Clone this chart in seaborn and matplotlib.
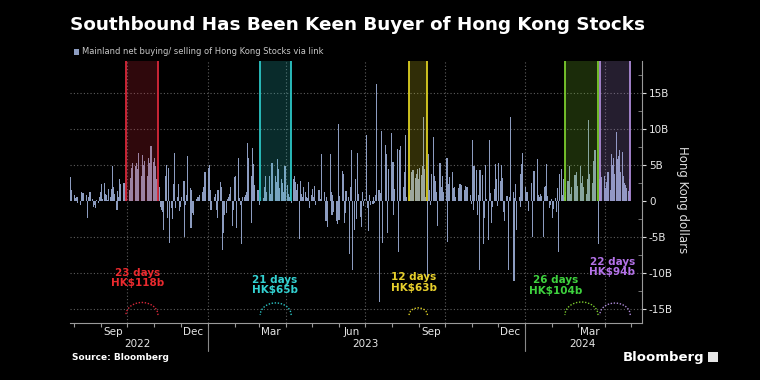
import pandas as pd
import seaborn as sns
import matplotlib.pyplot as plt
import matplotlib.dates as mdates
from matplotlib.patches import Arc, Rectangle
from matplotlib.transforms import blended_transform_factory

# daily net buying via Stock Connect (HK$ bn)
start_a = "2022-07-28"
flows_a = [3.3, 1.5, 0.9, 0.4, 0.2, 0.5, -0.3, -0.5, 1.2, 0.6,
           1.1, 0.3, 0.8, -2.4, 0.6, 0.9, 1.3, 0.3, -0.8, -0.6,
           -1.0, 0.2, -0.3, 0.6, 1.2, 2.3, 0.3, 2.5, 1.0, 0.8,
           0.1, 1.7, 0.5, 1.6, 4.9, 2.0, 1.0, -1.3, 1.4, 0.6,
           3.1, 2.3, 1.8, 2.5, 0.8, 0.3]
start_b = "2022-09-30"
flows_b = [0.4, 1.5, 1.0, 3.2, 4.6, 5.2, 4.8, 5.2, 3.8, 4.4,
           6.6, 3.5, 6.4, 5.0, 4.0, 5.6, 3.5, 6.0, 5.2, 7.5,
           7.6, 5.4, 6.0, 4.8, 2.0, 3.0]
start_c = "2022-11-07"
flows_c = [2.0, -0.8, -1.3, -1.5, -4.0,
           3.5, 5.0, -2.3, 4.6, -5.8, -1.0, -2.5, 2.3, 6.6, -1.0,
           0.5, 2.3, -1.4, -0.8, 0.6, 2.8, -5.0, -0.5, 0.8, 6.2,
           1.8, -3.8, 1.5, -1.6, -2.0, 0.3, 0.4, 0.5, 0.2, 0.8, 1.2, 2.0,
           3.5, 4.0, 3.0, 4.6, 5.0, 1.5, -1.3, -1.0, 0.5, 1.0,
           -1.2, -2.3, 1.5, 2.6, 2.0, -6.8, -4.5, -2.0, -1.6, 0.3,
           0.6, 1.0, 2.0, -3.5, -1.2, 3.3, 3.4, -3.7, 6.0, 0.4,
           -0.6, -5.9, 0.5, 0.6, 0.8, 1.2, 8.0, 6.0, -3.0, 3.4, 7.3,
           5.1, 2.2, 0.9, 1.5, 0.7, -0.5]
start_d = "2023-03-03"
flows_d = [0.5, 0.4, 2.0, 0.8, 3.5, 1.2, 3.4, 1.0, 2.0, 5.2,
           1.8, 3.5, 2.6, 5.8, 4.5, 1.8, 3.0, 2.5, 1.2, 0.8,
           4.8, 2.2, 1.0, 0.5, 1.6]
start_e = "2023-04-07"
flows_e = [-0.3, 3.1, 3.4, 2.6, 1.5, 2.3, -5.2, 2.8, 1.0, 0.6,
           2.0, 1.3, 0.5, 0.4, 2.7, -1.0, 0.8, 1.6, 0.5, 2.1,
           -0.6, 1.4, 1.5, 0.7, 0.3, 6.5, 1.3, -2.0, -2.7, 0.5,
           -3.6, 6.5, 1.2, -2.0, 0.8, -1.5, -2.7, -3.2, 10.7, -2.6,
           0.7, 4.1, 3.8, -3.0, -1.6, 1.4, 0.5, -7.3, 2.0, 7.1,
           -9.6, -4.0, 3.1, -2.5, 6.7, 1.0, -2.2,
           -3.6, 1.2, -0.7, 0.3, 9.2, -1.0, -4.2, 0.8, -0.5, -0.4,
           0.6, -0.3, 0.9, 16.2, 1.5, -14.0, 1.1, 9.7, -5.8, 7.8,
           1.0, 6.5, -4.4, 4.4, 9.4, 2.2, 5.4, -2.0, 1.6, 7.2,
           -7.0, 6.0, 7.1, 7.6, 2.0, 4.0, 9.1, 0.6, 0.2]
start_f = "2023-08-21"
flows_f = [0.8, 1.5, 4.0, 3.5, 4.3, 3.2, 3.8, 4.4, 3.0, 4.6,
           3.6, 4.8, 11.6, 4.5, 0.5]
start_g = "2023-09-11"
flows_g = [-11.0, 6.5, 1.5, -0.6, 3.7, 8.9, 3.5, 2.8, 1.3, -3.5,
           5.3, 1.0, 2.0, 3.5, 1.2, 4.3, 6.0, -5.7, 2.3, 3.3,
           4.0, 1.5, 1.8, 2.0, 0.5,
           1.8, 1.6, 2.3, 1.9, 2.2, 1.5, 2.1, 1.8, 2.0, 0.9,
           0.8, -0.4, 8.5, -1.3, 4.9, 4.3, -1.9, 0.8, -9.5, 4.3,
           3.6, -6.0, -2.3, 5.0, 0.3, -5.4, 8.4, 1.1, -3.0, -0.8,
           1.6, 5.1, 3.0, -0.7, 5.2, 2.8, 5.0, 3.2, -1.5, -2.8,
           0.7, 0.6, -9.6, 0.5, 11.7, 1.2, -11.1, 0.4, 2.3, -4.0,
           0.6, -0.8, 3.8, 5.1, 6.7, 2.0, 0.8, 1.2, 0.2, -1.4,
           2.5, -5.0, 1.0, 4.1, 2.3, 5.8, 0.9, 0.5, 1.0, 0.7,
           -5.0, 2.0, 2.1, 5.1, 0.7, -1.0, -0.5, 0.3, -2.3, -1.1,
           0.4, -1.5, 1.8, -7.0, 3.8, 4.5, 0.8, 3.0, 0.5]
start_h = "2024-02-16"
flows_h = [1.2, 2.8, 0.7, 4.8, 1.0, 2.0, 1.2, 3.6, 1.4, 4.0,
           2.1, 4.9, 2.5, 1.8, 3.5, 2.0, 1.0, 3.0, 1.5, 11.2,
           3.7, 2.5, 5.6, 3.0, 7.0, 4.2]
start_i = "2024-03-25"
flows_i = [-6.0, 3.0]
start_j = "2024-03-27"
flows_j = [4.0, 3.3, 2.5, 3.5, 1.8, 2.6, 3.0, 4.0, 1.5, 6.5,
           5.0, 6.0, 3.8, 9.6, 5.8, 6.2, 7.0, 4.0, 6.8, 3.5,
           2.5, 2.2, 1.8, 1.4, 3.0]

# buying streaks
band_starts = ["2022-09-29 06:00", "2023-03-02 12:00", "2023-08-20 12:00", "2024-02-15 12:00", "2024-03-26 12:00"]
band_ends = ["2022-11-05", "2023-04-07", "2023-09-10 12:00", "2024-03-24 12:00", "2024-04-30 12:00"]
band_colors = ["#d8283a", "#2cc6c6", "#dccf22", "#7ccc2e", "#ad8ad8"]
text_colors = ["#ea2a2e", "#33d2d2", "#e8d02c", "#3ed23e", "#b472e8"]
streak_days = ["23 days", "21 days", "12 days", "26 days", "22 days"]
streak_amounts = ["HK\\$118b", "HK\\$65b", "HK\\$63b", "HK\\$104b", "HK\\$94b"]
label_dates = ["2022-10-13", "2023-03-19", "2023-08-26", "2024-02-05", "2024-04-10"]
label_values = [-10.7, -11.6, -11.3, -11.7, -9.1]

month_label_dates = ["2022-09-15", "2022-12-15", "2023-03-15", "2023-06-15", "2023-09-15", "2023-12-15", "2024-03-15"]
month_labels = ["Sep", "Dec", "Mar", "Jun", "Sep", "Dec", "Mar"]
year_label_dates = ["2022-10-13", "2023-07-01", "2024-03-07"]
year_labels = ["2022", "2023", "2024"]

segments = [(start_a, flows_a), (start_b, flows_b), (start_c, flows_c), (start_d, flows_d),
            (start_e, flows_e), (start_f, flows_f), (start_g, flows_g), (start_h, flows_h),
            (start_i, flows_i), (start_j, flows_j)]
frames = [pd.DataFrame({"date": pd.bdate_range(s, periods=len(v)), "flow": v}) for s, v in segments]
df = pd.concat(frames, ignore_index=True)
df["x"] = mdates.date2num(df["date"])

def dnum(s):
    return mdates.date2num(pd.Timestamp(s))

sns.set_theme(style="dark")
plt.rcParams["font.family"] = ["DejaVu Sans"]

fig = plt.figure(figsize=(7.6, 3.8), dpi=100, facecolor="black")
ax = fig.add_axes([0.0921, 0.15, 0.7526, 0.6895], facecolor="black")

ymin, ymax = -16.9, 19.4
grid_col = "#5e5e5e"

# gridlines
for v in [-15, -10, -5, 5, 10, 15]:
    ax.axhline(v, color=grid_col, lw=0.8, linestyle=(0, (1, 2)), zorder=0)
for q in pd.date_range("2022-10-01", "2024-04-01", freq="QS"):
    ax.axvline(mdates.date2num(q), color=grid_col, lw=0.8, linestyle=(0, (1, 2)), zorder=0)

sns.barplot(data=df, x="x", y="flow", native_scale=True, color="#8c9cc0", width=1.3,
            errorbar=None, saturation=1, linewidth=0, ax=ax, zorder=2)

for s, e, c, tc, nd, amt, ld, lv in zip(band_starts, band_ends, band_colors, text_colors,
                                        streak_days, streak_amounts, label_dates, label_values):
    s, e = dnum(s), dnum(e)
    ax.add_patch(Rectangle((s, 0), e - s, ymax, facecolor=c, alpha=0.22, edgecolor="none", zorder=3))
    ax.vlines([s, e], 0, ymax, colors=c, lw=1.3, zorder=4)
    h = 0.095 * (e - s) / 2
    ax.add_patch(Arc(((s + e) / 2, -15.8), e - s, 2 * h, theta1=0, theta2=180, color=c,
                     lw=1.0, linestyle=(0, (1, 1.2)), zorder=4))
    ax.text(dnum(ld), lv, f"{nd}\n{amt}", color=tc, ha="center", va="center", fontsize=7.5,
            fontweight="bold", linespacing=1.05, zorder=5)

ax.set_xlim(dnum("2022-07-27"), dnum("2024-05-14"))
ax.set_ylim(ymin, ymax)
ax.set_xlabel("")
ax.set_ylabel("")

# y axis on the right
ax.yaxis.tick_right()
ax.set_yticks([-15, -10, -5, 0, 5, 10, 15])
ax.set_yticklabels(["-15B", "-10B", "-5B", "0", "5B", "10B", "15B"])
ax.set_yticks([-12.5, -7.5, -2.5, 2.5, 7.5, 12.5, 17.5], minor=True)
ax.tick_params(axis="y", which="major", direction="out", length=3, width=0.8, color="#dddddd",
               labelcolor="#e6e6e6", labelsize=7.5, pad=2, right=True, left=False)
ax.tick_params(axis="y", which="minor", direction="in", length=3, width=0.6, color="#888888",
               right=True, left=False)

# months
month_starts = pd.date_range("2022-08-01", "2024-05-01", freq="MS")
ax.set_xticks(mdates.date2num(month_starts))
ax.set_xticklabels([])
ax.set_xticks([dnum(d) for d in month_label_dates], minor=True)
ax.set_xticklabels(month_labels, minor=True)
ax.tick_params(axis="x", which="major", direction="out", length=3, width=0.8, color="#999999", bottom=True)
ax.tick_params(axis="x", which="minor", length=0, labelcolor="#e6e6e6", labelsize=7.5, pad=3)

trans = blended_transform_factory(ax.transData, ax.transAxes)
for d, y in zip(year_label_dates, year_labels):
    ax.text(dnum(d), -0.08, y, transform=trans, ha="center", va="center", color="#e6e6e6", fontsize=7.5)
for d in ["2023-01-01", "2024-01-01"]:
    ax.plot([dnum(d), dnum(d)], [-0.01, -0.105], transform=trans, color="#888888", lw=0.8, clip_on=False)

for side in ["left", "top"]:
    ax.spines[side].set_visible(False)
for side in ["right", "bottom"]:
    ax.spines[side].set_color("#9a9a9a")
    ax.spines[side].set_linewidth(0.8)
ax.grid(False)

# titles and notes
fig.text(70 / 760, 1 - 25 / 380, "Southbound Has Been Keen Buyer of Hong Kong Stocks", color="white",
         fontsize=13.2, fontweight="bold", va="center", ha="left")
fig.patches.append(Rectangle((74 / 760, 1 - 54.5 / 380), 5 / 760, 5 / 380, transform=fig.transFigure,
                             facecolor="#8c9cc0", edgecolor="none"))
fig.text(82 / 760, 1 - 52 / 380, "Mainland net buying/ selling of Hong Kong Stocks via link",
         color="#c8c8c8", fontsize=6, va="center", ha="left")
fig.text(683 / 760, 1 - 200 / 380, "Hong Kong dollars", rotation=270, color="#dddddd",
         fontsize=8.5, va="center", ha="center")
fig.text(72 / 760, 1 - 358 / 380, "Source: Bloomberg", color="white", fontsize=6.5,
         fontweight="bold", va="center", ha="left")
fig.text(704 / 760, 1 - 357 / 380, "Bloomberg", color="white", fontsize=9.5,
         fontweight="bold", va="center", ha="right")
fig.patches.append(Rectangle((708 / 760, 1 - 362 / 380), 10 / 760, 10 / 380, transform=fig.transFigure,
                             facecolor="#e6e6e6", edgecolor="none"))

fig.savefig("out.png", dpi=100, facecolor="black")
